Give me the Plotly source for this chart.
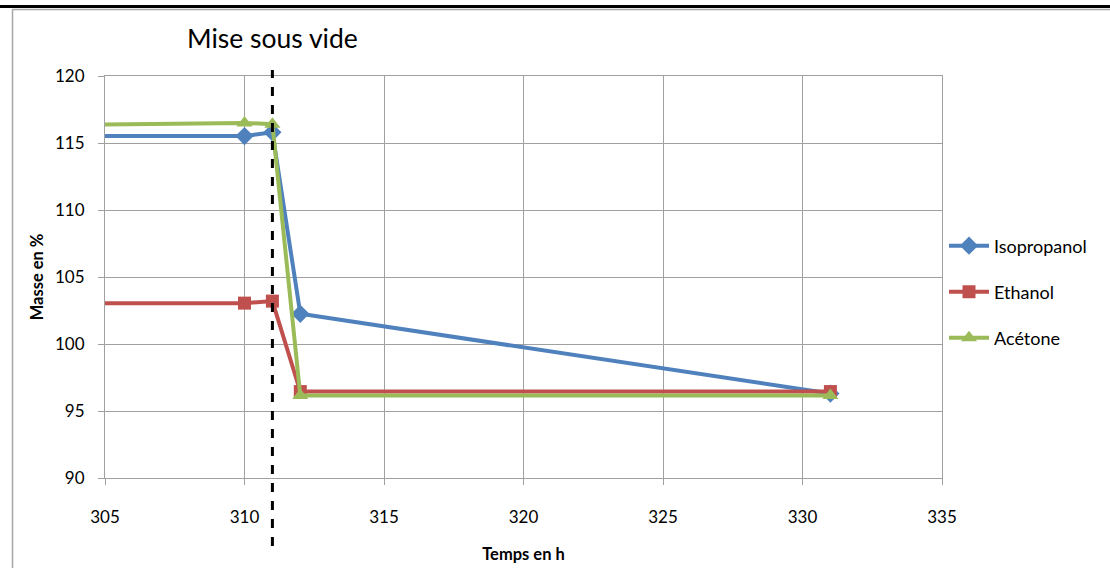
import plotly.graph_objects as go

# Data
hours = [300, 310, 311, 312, 331]
isopropanol = [115.52, 115.52, 115.8, 102.25, 96.3]
ethanol = [103.05, 103.05, 103.2, 96.45, 96.45]
acetone = [116.25, 116.5, 116.4, 96.15, 96.15]
vacuum_time = 311
x_ticks = [305, 310, 315, 320, 325, 330, 335]
y_ticks = [90, 95, 100, 105, 110, 115, 120]

BLUE = "#4F81BD"
RED = "#C0504D"
GREEN = "#9BBB59"
GRID = "#A0A0A0"
FONT = "Lato, Carlito, 'Open Sans', sans-serif"

fig = go.Figure()
series = [
    ("Isopropanol", isopropanol, BLUE, "diamond", 14, "legend"),
    ("Ethanol", ethanol, RED, "square", 13, "legend2"),
    ("Acétone", acetone, GREEN, "triangle-up", 14, "legend3"),
]
for name, vals, col, sym, size, leg in series:
    fig.add_trace(go.Scatter(
        x=hours, y=vals, name=name, mode="lines+markers",
        line=dict(color=col, width=4),
        marker=dict(symbol=sym, size=size, color=col),
        legend=leg,
    ))

# dashed vertical line: "Mise sous vide"
fig.add_shape(type="line", xref="x", yref="paper",
              x0=vacuum_time, x1=vacuum_time, y0=-0.169, y1=1.015,
              line=dict(color="black", width=3, dash="dash"), layer="above")
fig.add_annotation(x=vacuum_time, xref="x", y=1.094, yref="paper",
                   text="Mise sous vide", showarrow=False,
                   font=dict(size=26.5, color="black", family=FONT),
                   xanchor="center", yanchor="middle")

# outer frame lines (paper)
W, H = 837.0, 402.0
def px_x(p):
    return (p - 105) / W
def px_y(p):
    return (478 - p) / H
fig.add_shape(type="line", xref="paper", yref="paper",
              x0=px_x(0), x1=px_x(1110), y0=px_y(6.5), y1=px_y(6.5),
              line=dict(color="black", width=3))
fig.add_shape(type="line", xref="paper", yref="paper",
              x0=px_x(12), x1=px_x(1110), y0=px_y(9.5), y1=px_y(9.5),
              line=dict(color="#A6A6A6", width=1.5))
fig.add_shape(type="line", xref="paper", yref="paper",
              x0=px_x(12.5), x1=px_x(12.5), y0=px_y(9.5), y1=px_y(568),
              line=dict(color="#A6A6A6", width=1.5))

axis_common = dict(
    showgrid=True, gridcolor=GRID, gridwidth=1,
    showline=True, linecolor=GRID, linewidth=1, mirror=True,
    ticks="outside", ticklen=6, tickcolor=GRID,
    tickfont=dict(size=17, color="black", family=FONT),
    zeroline=False,
)
fig.update_xaxes(range=[305, 335], tickvals=x_ticks, ticklabelstandoff=18,
                 title=dict(text="<b>Temps en h</b>", standoff=22,
                            font=dict(size=16.5, color="black", family=FONT)),
                 **axis_common)
fig.update_yaxes(range=[90, 120], tickvals=y_ticks, ticklabelstandoff=10,
                 title=dict(text="<b>Masse en %</b>", standoff=7,
                            font=dict(size=16.5, color="black", family=FONT)),
                 **axis_common)

leg_common = dict(x=px_x(944), xanchor="left", yanchor="middle",
                  itemwidth=40,
                  font=dict(size=18, color="black", family=FONT),
                  bgcolor="rgba(0,0,0,0)")
fig.update_layout(
    width=1110, height=568,
    margin=dict(l=105, r=168, t=76, b=90, autoexpand=False),
    paper_bgcolor="white", plot_bgcolor="white",
    showlegend=True,
    legend=dict(y=px_y(246), **leg_common),
    legend2=dict(y=px_y(292), **leg_common),
    legend3=dict(y=px_y(338), **leg_common),
    font=dict(family=FONT),
)

fig.write_html("out.html", config={"displayModeBar": False},
               post_script="document.body.style.margin='0';document.body.style.padding='0';")
